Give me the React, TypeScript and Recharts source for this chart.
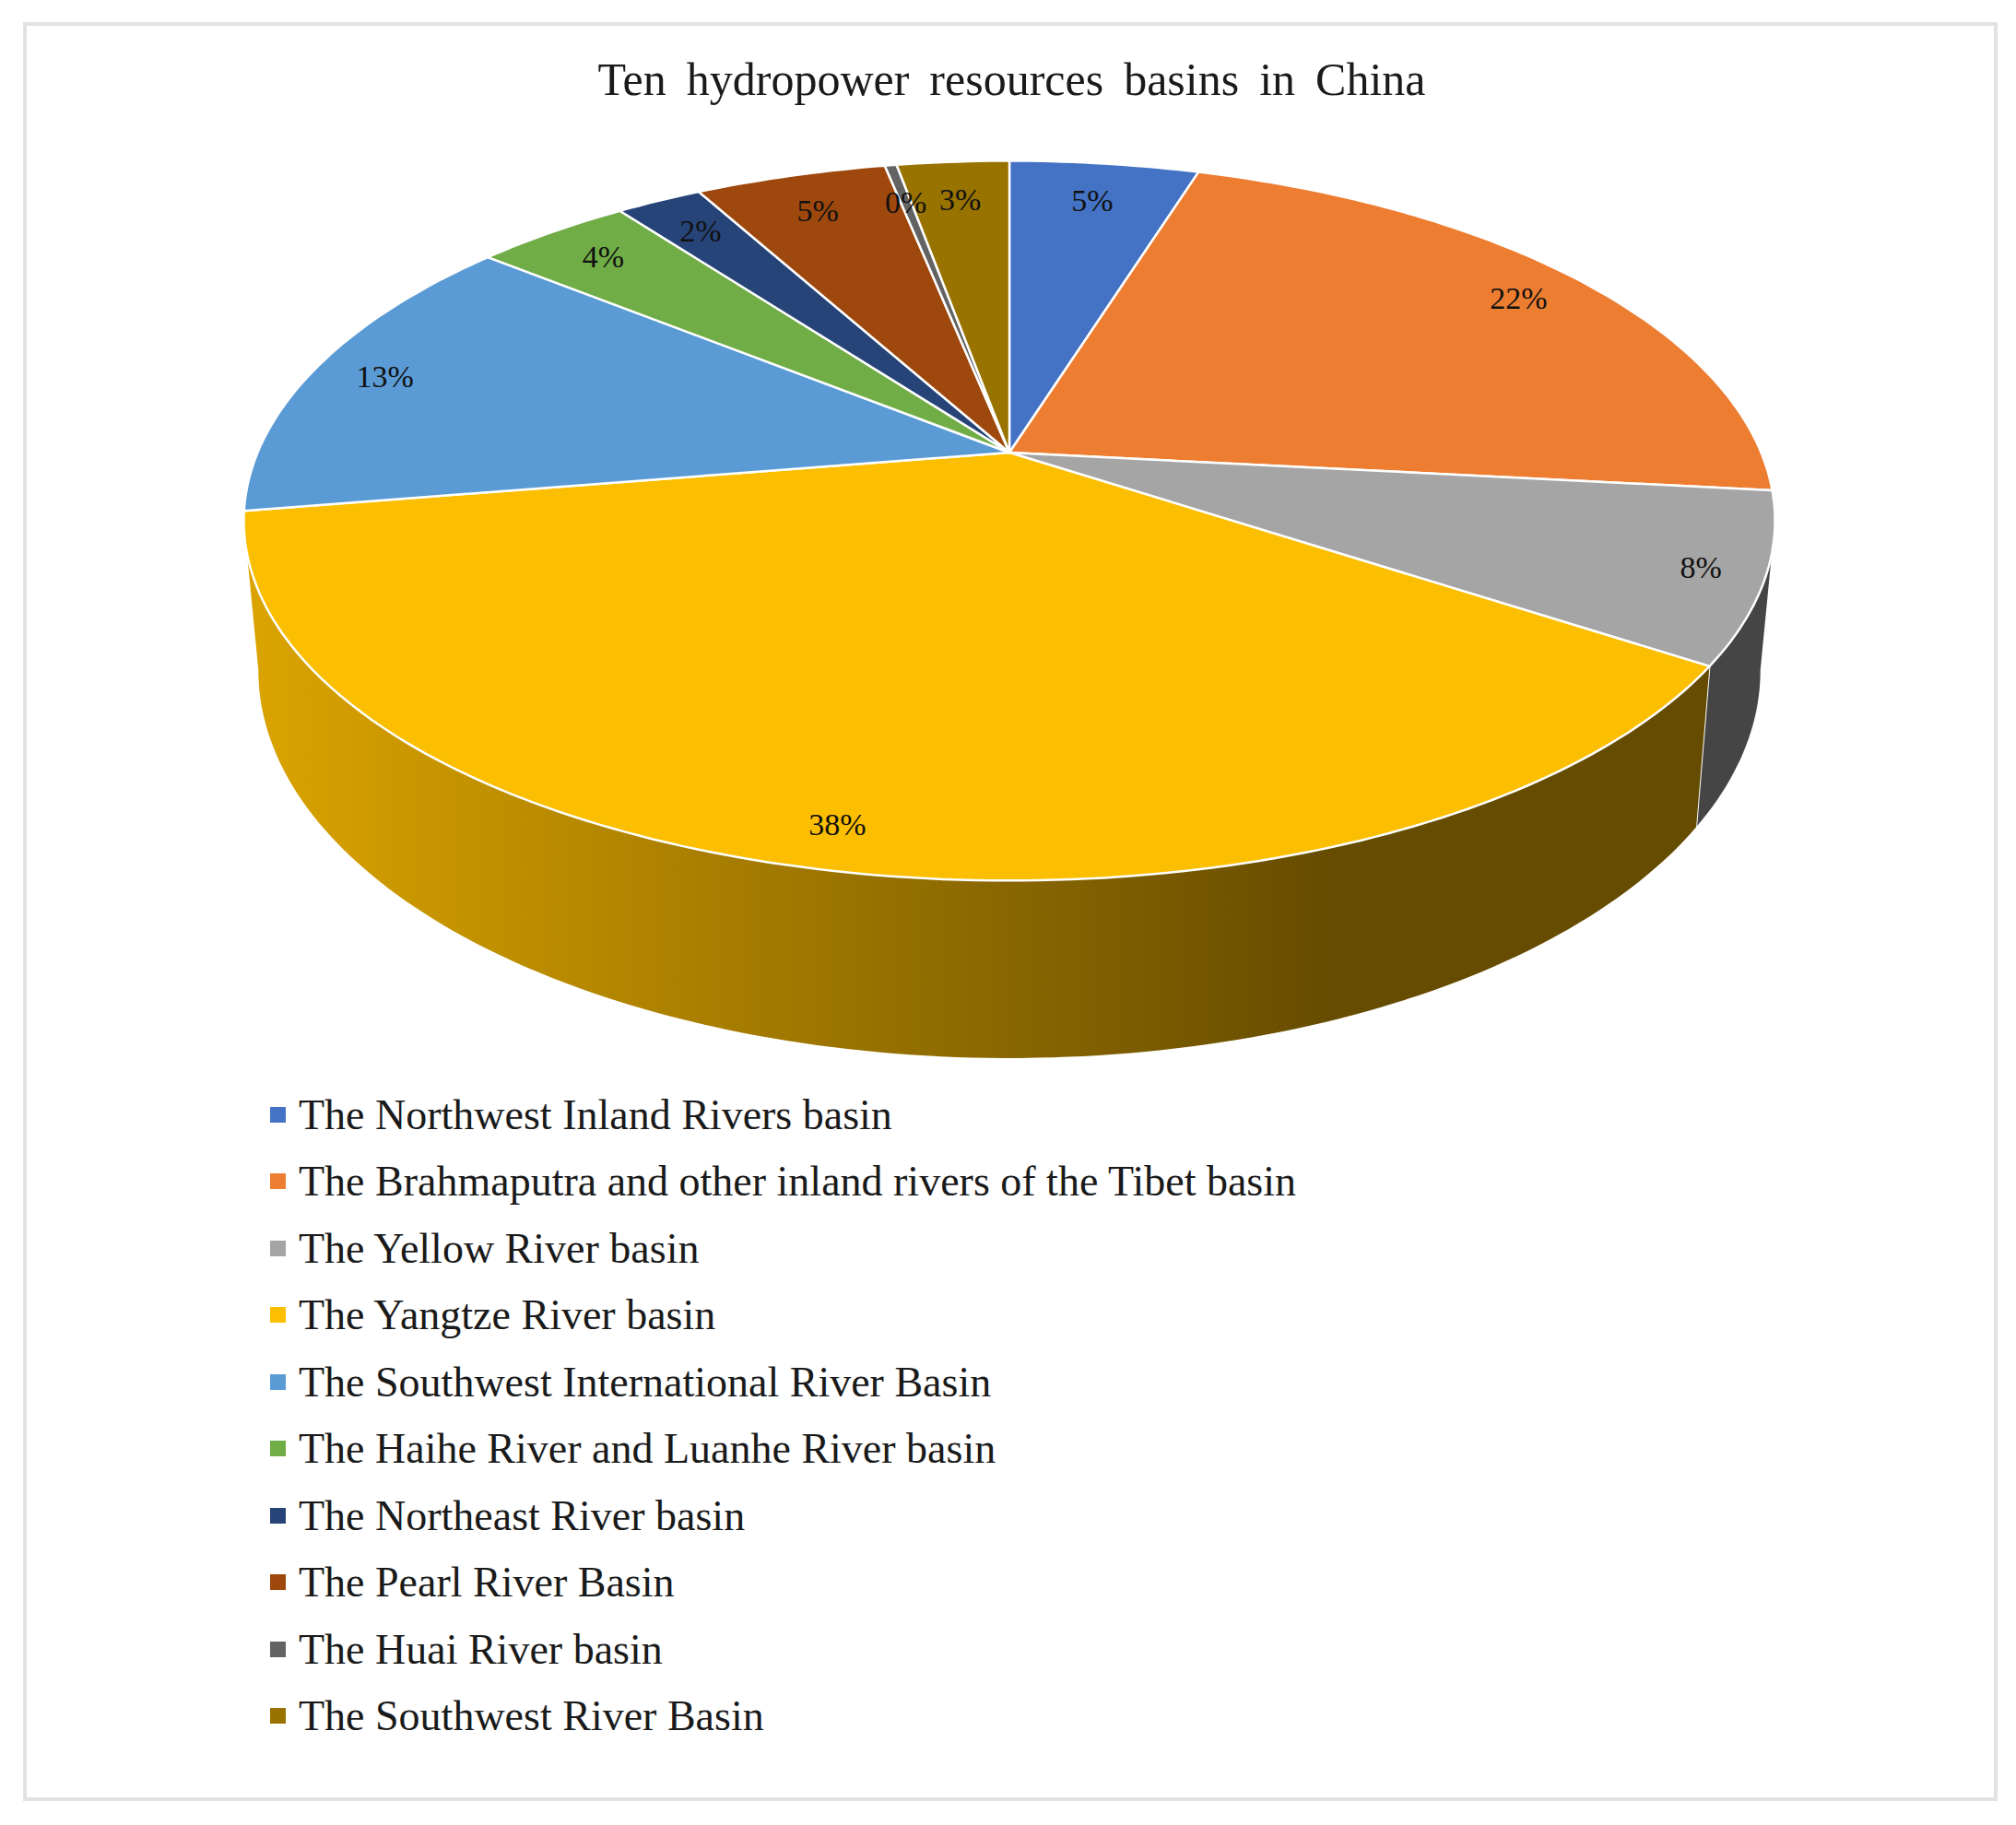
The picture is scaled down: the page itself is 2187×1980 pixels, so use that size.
import { PieChart, Pie, Legend } from 'recharts';

const basinNames = [
  'The Northwest Inland Rivers basin',
  'The Brahmaputra and other inland rivers of the Tibet basin',
  'The Yellow River basin',
  'The Yangtze River basin',
  'The Southwest International River Basin',
  'The Haihe River and Luanhe River basin',
  'The Northeast River basin',
  'The Pearl River Basin',
  'The Huai River basin',
  'The Southwest River Basin',
];
const basinShares = [4.8, 21.9, 7.6, 38.1, 13.45, 3.97, 2.18, 4.85, 0.3, 2.85];
const basinColors = ['#4472C4', '#ED7D31', '#A5A5A5', '#FCBE00', '#5B9BD5', '#70AD47', '#264478', '#9E480E', '#636363', '#997300'];
const wallFills = ['#454545', 'url(#goldWall)'];

const chartData = basinNames.map((name, i) => ({ name, value: basinShares[i], fill: basinColors[i] }));

// perspective of the tilted disc, the lower rim is a smaller disc further down
const PERSPECTIVE = 0.1893;
const TILT = 0.4616;
const RIM = { dy: 156.4, scale: 0.981, tilt: 0.5072 };
const SILHOUETTE = (Math.asin(PERSPECTIVE) * 180) / Math.PI;

// clock = degrees clockwise from 12 o'clock, r = 1 is the disc edge
function project(cx: number, cy: number, radius: number, clock: number, r = 1, tilt = TILT) {
  const a = (clock * Math.PI) / 180;
  const s = Math.sin(a) * r;
  const k = Math.cos(a) * r;
  const d = 1 + PERSPECTIVE * k;
  return { x: cx + (radius * s) / d, y: cy - (radius * tilt * k) / d };
}

function arcPoints(cx: number, cy: number, radius: number, from: number, to: number, tilt = TILT) {
  const steps = Math.max(2, Math.ceil(Math.abs(to - from)));
  const pts = [];
  for (let i = 0; i <= steps; i++) {
    pts.push(project(cx, cy, radius, from + ((to - from) * i) / steps, 1, tilt));
  }
  return pts;
}

const toPath = (pts: { x: number; y: number }[]) => pts.map((p, i) => `${i ? 'L' : 'M'}${p.x.toFixed(1)},${p.y.toFixed(1)}`).join(' ');

function DiscSlice(props: any) {
  const { cx, cy, outerRadius, startAngle, endAngle, fill, index } = props;
  const from = 90 - startAngle;
  const to = 90 - endAngle;
  const top = arcPoints(cx, cy, outerRadius, from, to);

  const wallFrom = Math.max(from, 90 + SILHOUETTE);
  const wallTo = Math.min(to, 270 - SILHOUETTE);
  let wall = null;
  if (wallFrom < wallTo) {
    const upper = arcPoints(cx, cy, outerRadius, wallFrom, wallTo);
    const lower = arcPoints(cx, cy + RIM.dy, outerRadius * RIM.scale, wallFrom, wallTo, RIM.tilt).reverse();
    const a = project(cx, cy, outerRadius, wallTo);
    const b = project(cx, cy + RIM.dy, outerRadius * RIM.scale, wallTo, 1, RIM.tilt);
    wall = (
      <g>
        <path d={`${toPath([...upper, ...lower])} Z`} fill={index === 2 ? wallFills[0] : wallFills[1]} />
        {to < 270 - SILHOUETTE && <line x1={a.x} y1={a.y} x2={b.x} y2={b.y} stroke="#fff" strokeWidth={2} />}
      </g>
    );
  }

  return (
    <g>
      {wall}
      <path d={`M${cx},${cy} ${toPath(top).replace('M', 'L')} Z`} fill={fill} stroke="#fff" strokeWidth={2.5} strokeLinejoin="round" />
    </g>
  );
}

function PercentLabel(props: any) {
  const { cx, cy, outerRadius, midAngle, percent } = props;
  const clock = 90 - midAngle;
  const k = Math.cos((clock * Math.PI) / 180);
  const r = k > 0 ? 0.9 - 0.05 * k * k : 0.925 + 0.015 * k;
  const p = project(cx, cy, outerRadius, clock, r);
  return (
    <text x={p.x} y={p.y} textAnchor="middle" dominantBaseline="central" fontSize={34} fontFamily="'Liberation Serif', serif" fill="#111">
      {`${Math.round(percent * 100)}%`}
    </text>
  );
}

function BasinLegend({ payload }: any) {
  return (
    <div>
      {(payload ?? []).map((item: any) => (
        <div key={item.value} style={{ display: 'flex', alignItems: 'center', height: 72.5 }}>
          <span style={{ width: 17, height: 17, background: item.color, marginRight: 14 }} />
          <span style={{ fontSize: 46, color: '#1a1a1a', whiteSpace: 'nowrap' }}>{item.value}</span>
        </div>
      ))}
    </div>
  );
}

export default function App() {
  return (
    <div style={{ position: 'absolute', left: 0, top: 0, width: 2187, height: 1980, background: '#fff', fontFamily: "'Liberation Serif', serif" }}>
      <div style={{ position: 'absolute', left: 25, top: 24, width: 2142, height: 1930, border: '4px solid #e2e2e2', boxSizing: 'border-box' }} />
      <PieChart width={2187} height={1980} margin={{ top: 0, right: 0, bottom: 0, left: 0 }} style={{ position: 'absolute', left: 0, top: 0 }}>
        <defs>
          <linearGradient id="goldWall" gradientUnits="userSpaceOnUse" x1={265} y1={0} x2={1860} y2={0}>
            <stop offset="0" stopColor="#dba400" />
            <stop offset="0.74" stopColor="#664c00" />
            <stop offset="1" stopColor="#664c00" />
          </linearGradient>
        </defs>
        <text x={1097.5} y={86} textAnchor="middle" dominantBaseline="central" fontSize={50} fontFamily="'Liberation Serif', serif" fill="#1a1a1a" wordSpacing={9.5}>
          Ten hydropower resources basins in China
        </text>
        <Pie
          data={chartData}
          dataKey="value"
          nameKey="name"
          cx={1095}
          cy={491}
          outerRadius={815.5}
          startAngle={90}
          endAngle={-270}
          shape={DiscSlice}
          label={PercentLabel}
          labelLine={false}
          isAnimationActive={false}
        />
        <Legend
          content={BasinLegend}
          itemSorter={null}
          wrapperStyle={{ position: 'absolute', left: 293, top: 1173, width: 1600 }}
        />
      </PieChart>
    </div>
  );
}
